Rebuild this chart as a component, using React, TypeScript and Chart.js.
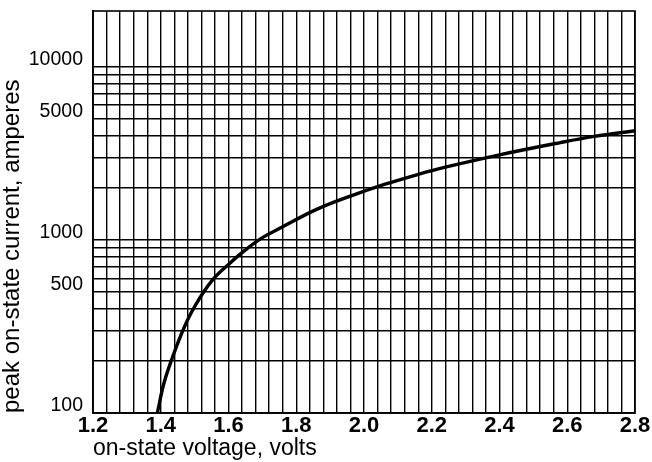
import React, { useEffect, useRef } from "react";
import { Chart, registerables } from "chart.js";

Chart.register(...registerables);

// On-state voltage (V) and peak on-state current (A)
const voltage = [1.39, 1.41, 1.44, 1.47, 1.50, 1.55, 1.60, 1.65, 1.70, 1.76, 1.86, 1.96, 2.06, 2.16, 2.24, 2.40, 2.58, 2.68, 2.80];
const current = [100, 150, 224, 315, 412, 578, 722, 875, 1030, 1190, 1500, 1790, 2090, 2390, 2630, 3100, 3650, 3960, 4270];

// Axis labels
const xTickLabels = ["1.2", "1.4", "1.6", "1.8", "2.0", "2.2", "2.4", "2.6", "2.8"];
const yTickLabels = [100, 500, 1000, 5000, 10000];

// Grid definition
const xMin = 1.2;
const xMax = 2.8;
const xGridStep = 0.04;
const yMin = 100;
const yMax = 21000;
const yDecades = [100, 1000];
const yMultipliers = [1, 2, 3, 4, 5, 6, 7, 8, 9];

const FONT = "'Liberation Sans', Arial, Helvetica, sans-serif";

const frameBorder = {
  id: "frameBorder",
  afterDatasetsDraw(chart: any) {
    const { ctx, chartArea } = chart;
    ctx.save();
    ctx.strokeStyle = "#000";
    ctx.lineWidth = 1.6;
    ctx.strokeRect(chartArea.left, chartArea.top, chartArea.right - chartArea.left, chartArea.bottom - chartArea.top);
    ctx.restore();
  },
};

export default function App() {
  const ref = useRef<HTMLCanvasElement | null>(null);

  useEffect(() => {
    document.body.style.margin = "0";
    const canvas = ref.current;
    if (!canvas) return;
    const points = voltage.map((v, i) => ({ x: v, y: current[i] }));
    const xGrid: number[] = [];
    const nX = Math.round((xMax - xMin) / xGridStep);
    for (let i = 0; i <= nX; i++) xGrid.push(+(xMin + i * xGridStep).toFixed(2));
    const yGrid: number[] = [];
    yDecades.forEach((d) => yMultipliers.forEach((m) => yGrid.push(d * m)));
    yGrid.push(10000);

    const chart = new Chart(canvas, {
      type: "line",
      data: {
        datasets: [
          {
            data: points,
            borderColor: "#000",
            borderWidth: 3.4,
            pointRadius: 0,
            fill: false,
            tension: 0.4,
          } as any,
        ],
      },
      options: {
        animation: false,
        responsive: false,
        devicePixelRatio: 1,
        layout: { padding: { top: 11, right: 17, left: 0, bottom: 0 } },
        plugins: { legend: { display: false }, tooltip: { enabled: false } },
        scales: {
          x: {
            type: "linear",
            min: xMin,
            max: xMax,
            afterBuildTicks: (scale: any) => {
              scale.ticks = xGrid.map((v) => ({ value: v }));
            },
            afterFit: (scale: any) => {
              scale.height = 49;
              scale.paddingLeft = 0;
              scale.paddingRight = 0;
            },
            grid: { color: "#000", lineWidth: 1.4, drawTicks: false },
            border: { display: true, color: "#000", width: 1.6 },
            ticks: {
              autoSkip: false,
              maxRotation: 0,
              padding: 2,
              color: "#000",
              font: { family: FONT, size: 22, weight: "bold", lineHeight: 1 },
              callback: (value: any) => {
                const s = Number(value).toFixed(1);
                return Math.abs(Number(value) * 5 - Math.round(Number(value) * 5)) < 1e-6 && xTickLabels.includes(s) ? s : "";
              },
            },
            title: {
              display: true,
              text: "on-state voltage, volts",
              align: "start",
              color: "#000",
              font: { family: FONT, size: 23, lineHeight: 1 },
              padding: { top: 0, bottom: 2 },
            },
          },
          y: {
            type: "logarithmic",
            min: yMin,
            max: yMax,
            afterBuildTicks: (scale: any) => {
              scale.ticks = yGrid.map((v) => ({ value: v }));
            },
            afterFit: (scale: any) => {
              scale.width = 93;
              scale.paddingTop = 0;
              scale.paddingBottom = 0;
            },
            grid: { color: "#000", lineWidth: 1.4, drawTicks: false },
            border: { display: true, color: "#000", width: 1.6 },
            ticks: {
              autoSkip: false,
              padding: 10,
              labelOffset: -7,
              color: "#000",
              font: { family: FONT, size: 19.5 },
              callback: (value: any) => (yTickLabels.includes(Number(value)) ? String(value) : ""),
            },
            title: {
              display: true,
              text: "peak on-state current, amperes",
              align: "start",
              color: "#000",
              font: { family: FONT, size: 24, lineHeight: 1 },
              padding: { top: 0, bottom: 0 },
            },
          },
        },
      } as any,
      plugins: [frameBorder],
    });
    return () => chart.destroy();
  }, []);

  return (
    <div style={{ position: "absolute", left: 0, top: 0, width: 652, height: 462, background: "#fff" }}>
      <canvas ref={ref} width={652} height={462} />
    </div>
  );
}
